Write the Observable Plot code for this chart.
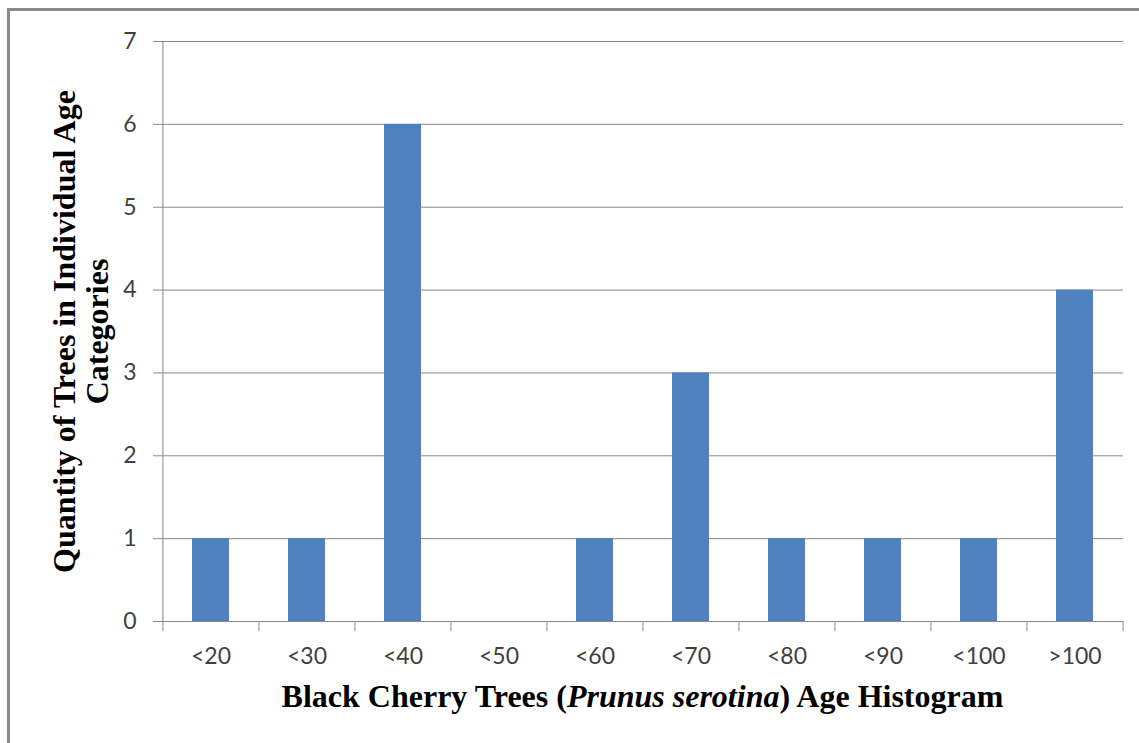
<!DOCTYPE html>
<html>
<head>
<meta charset="utf-8">
<script src="https://cdn.jsdelivr.net/npm/d3@7"></script>
<script src="https://cdn.jsdelivr.net/npm/@observablehq/plot@0.6"></script>
<style>
  html, body { margin: 0; padding: 0; background: #fff; }
  #wrap { position: relative; width: 1139px; height: 743px; overflow: hidden; }
  #wrap svg { position: absolute; left: 0; top: 0; }
  #edge { position: absolute; left: 7px; top: 8px; width: 1200px; height: 800px;
          border-left: 3px solid #8a8a8a; border-top: 3px solid #8a8a8a; }
</style>
</head>
<body>
<div id="wrap"><div id="edge"></div></div>
<script>
// Age classes of the sampled black cherry trees and how many fall in each
const categories = ["<20", "<30", "<40", "<50", "<60", "<70", "<80", "<90", "<100", ">100"];
const counts = [1, 1, 6, 0, 1, 3, 1, 1, 1, 4];
const yTicks = [0, 1, 2, 3, 4, 5, 6, 7];

const yTitle = "Quantity of Trees in Individual Age\nCategories";
const xTitleParts = [
  {text: "Black Cherry Trees (", italic: false},
  {text: "Prunus serotina", italic: true},
  {text: ") Age Histogram", italic: false}
];

const data = categories.map((c, i) => ({age: c, n: counts[i]}));

const W = 1139, H = 743;
const mL = 162, mR = 16, mT = 41, mB = 122;
const step = (W - mL - mR) / categories.length;

const gray = "#878787";
const tickFont = "Lato, 'Open Sans', sans-serif";
const serif = "'Liberation Serif', 'Times New Roman', serif";

const chart = Plot.plot({
  width: W,
  height: H,
  marginLeft: mL,
  marginRight: mR,
  marginTop: mT,
  marginBottom: mB,
  style: {background: "transparent", fontFamily: tickFont, fontSize: "23px", color: "#404040", overflow: "visible"},
  x: {domain: categories, paddingInner: 0.61, paddingOuter: 0.305, align: 0.5, label: null},
  y: {domain: [0, 7], ticks: yTicks, tickFormat: d => String(d), label: null},
  marks: [
    Plot.gridY(yTicks, {stroke: gray, strokeOpacity: 1, strokeWidth: 1}),
    // vertical value axis line on the left edge of the plot area
    Plot.ruleX([categories[0]], {dx: -step / 2, stroke: gray, strokeWidth: 1}),
    Plot.barY(data, {x: "age", y: "n", fill: "#4F81BD"}),
    Plot.axisY(yTicks, {tickSize: 9, tickPadding: 17, tickFormat: d => String(d), stroke: gray, fill: "#404040", fontSize: 23, label: null}),
    // category boundary ticks
    Plot.axisX(categories, {tickSize: 10, dx: -step / 2, text: null, stroke: gray, label: null}),
    Plot.axisX([categories[categories.length - 1]], {tickSize: 10, dx: step / 2, text: null, stroke: gray, label: null}),
    Plot.axisX(categories, {tickSize: 0, tickPadding: 26, fill: "#404040", fontSize: 23, label: null}),
    Plot.text([yTitle], {
      frameAnchor: "left", textAnchor: "middle", lineAnchor: "middle",
      dx: -82, rotate: -90, lineHeight: 1.04,
      fontFamily: serif, fontWeight: "bold", fontSize: 32, fill: "#000"
    })
  ]
});

document.getElementById("wrap").appendChild(chart);

// Axis title below the categories, with the species name in italics
const xr = chart.scale("x").range;
const title = d3.select(chart).append("text")
  .attr("x", (xr[0] + xr[1]) / 2)
  .attr("y", 707)
  .attr("text-anchor", "middle")
  .attr("font-family", serif)
  .attr("font-weight", "bold")
  .attr("font-size", 32)
  .attr("fill", "#000");
for (const p of xTitleParts) {
  title.append("tspan").attr("font-style", p.italic ? "italic" : "normal").text(p.text);
}
</script>
</body>
</html>
